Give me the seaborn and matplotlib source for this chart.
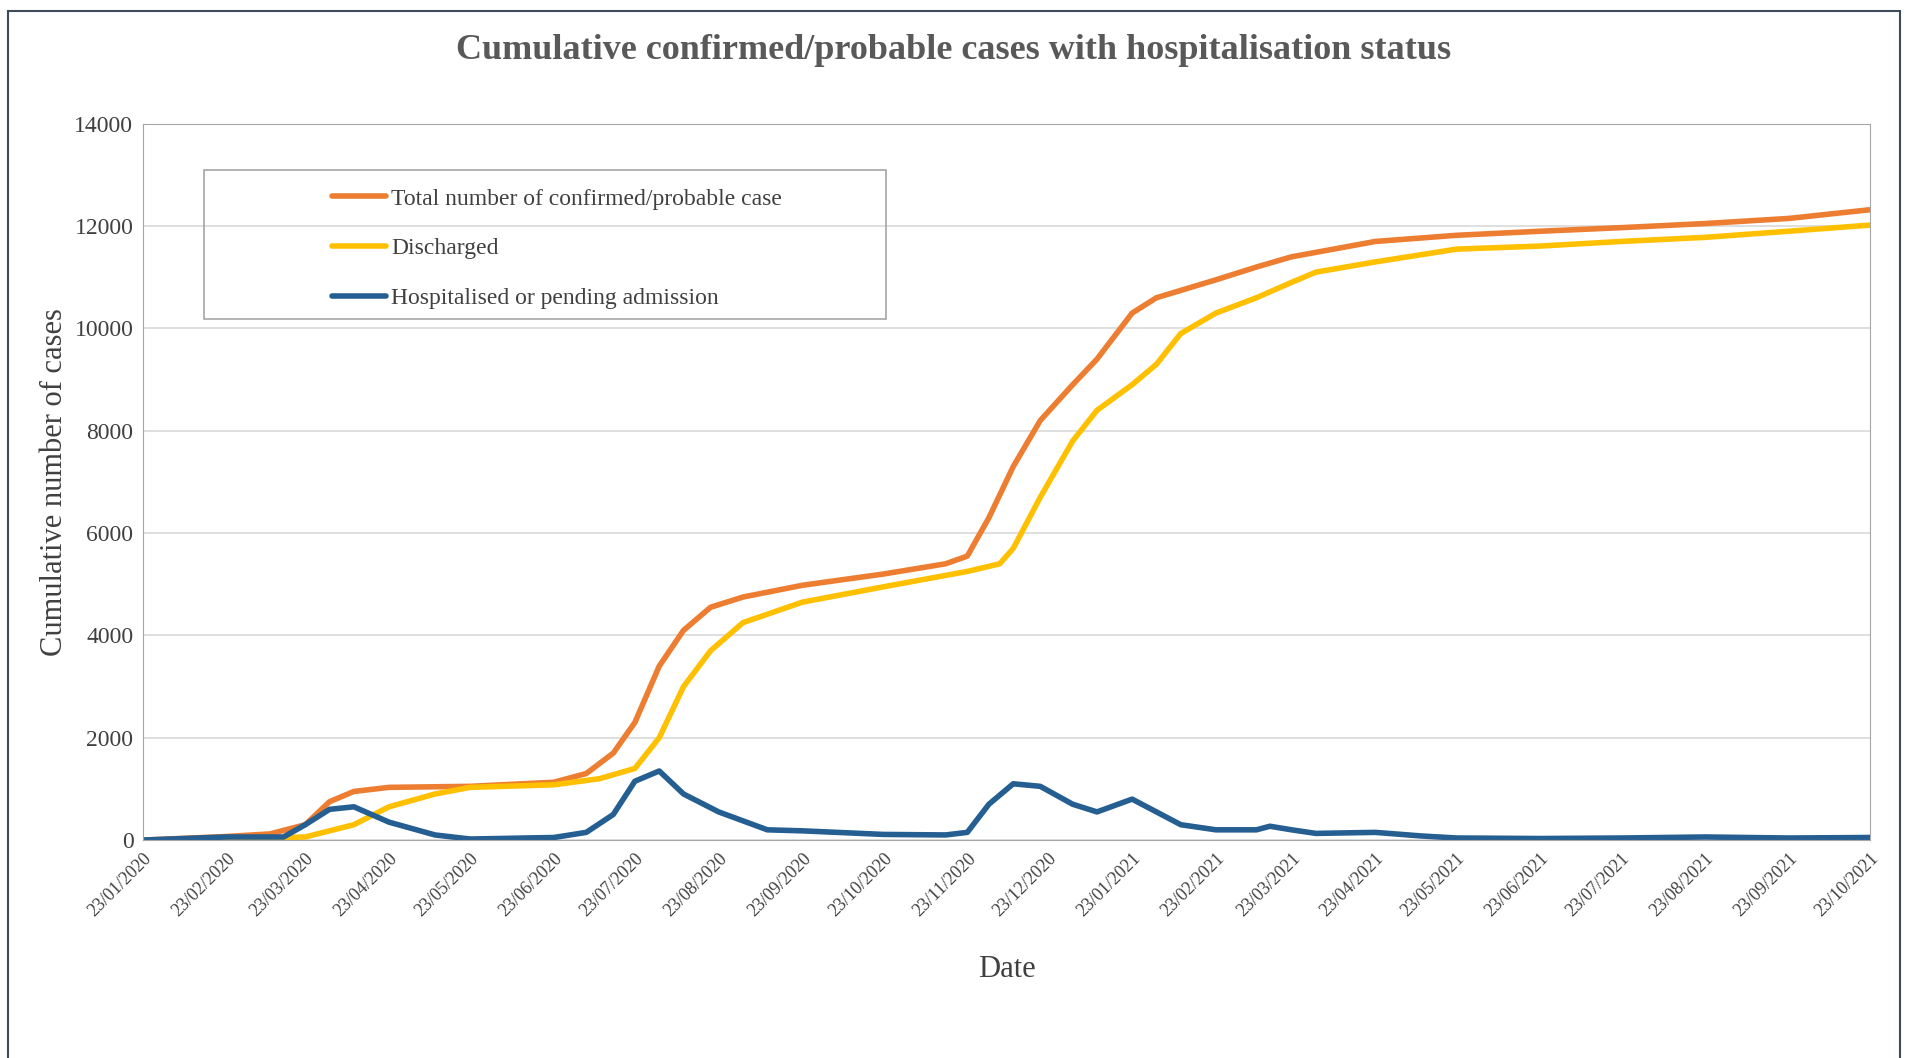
import pandas as pd
import matplotlib.pyplot as plt
import matplotlib.dates as mdates
import seaborn as sns

total_dates = ["2020-01-23", "2020-02-23", "2020-03-10", "2020-03-23", "2020-04-01", "2020-04-10",
               "2020-04-23", "2020-05-23", "2020-06-23", "2020-07-05", "2020-07-15", "2020-07-23",
               "2020-08-01", "2020-08-10", "2020-08-20", "2020-09-01", "2020-09-23", "2020-10-23",
               "2020-11-15", "2020-11-23", "2020-12-01", "2020-12-10", "2020-12-20", "2021-01-01",
               "2021-01-10", "2021-01-23", "2021-02-01", "2021-02-23", "2021-03-10", "2021-03-23",
               "2021-04-23", "2021-05-23", "2021-06-23", "2021-07-23", "2021-08-23", "2021-09-23",
               "2021-10-23"]
total_vals = [0, 70, 120, 300, 750, 950, 1030, 1050, 1130, 1300, 1700, 2300, 3400, 4100, 4550,
              4750, 4980, 5200, 5400, 5550, 6300, 7300, 8200, 8900, 9400, 10300, 10600, 10950,
              11200, 11400, 11700, 11820, 11900, 11970, 12050, 12150, 12320]

disch_dates = ["2020-01-23", "2020-02-23", "2020-03-23", "2020-04-10", "2020-04-23", "2020-05-10",
               "2020-05-23", "2020-06-23", "2020-07-10", "2020-07-23", "2020-08-01", "2020-08-10",
               "2020-08-20", "2020-09-01", "2020-09-23", "2020-10-23", "2020-11-23", "2020-12-05",
               "2020-12-10", "2020-12-20", "2021-01-01", "2021-01-10", "2021-01-23", "2021-02-01",
               "2021-02-10", "2021-02-23", "2021-03-10", "2021-03-23", "2021-04-01", "2021-04-23",
               "2021-05-23", "2021-06-23", "2021-07-23", "2021-08-23", "2021-09-23", "2021-10-23"]
disch_vals = [0, 20, 60, 300, 650, 900, 1030, 1080, 1200, 1400, 2000, 3000, 3700, 4250, 4650,
              4950, 5250, 5400, 5700, 6700, 7800, 8400, 8900, 9300, 9900, 10300, 10600, 10900,
              11100, 11300, 11550, 11610, 11700, 11780, 11900, 12020]

hosp_dates = ["2020-01-23", "2020-02-23", "2020-03-15", "2020-03-23", "2020-04-01", "2020-04-10",
              "2020-04-23", "2020-05-10", "2020-05-23", "2020-06-23", "2020-07-05", "2020-07-15",
              "2020-07-23", "2020-08-01", "2020-08-10", "2020-08-23", "2020-09-10", "2020-09-23",
              "2020-10-23", "2020-11-15", "2020-11-23", "2020-12-01", "2020-12-10", "2020-12-20",
              "2021-01-01", "2021-01-10", "2021-01-23", "2021-02-01", "2021-02-10", "2021-02-23",
              "2021-03-10", "2021-03-15", "2021-03-23", "2021-04-01", "2021-04-23", "2021-05-10",
              "2021-05-23", "2021-06-23", "2021-07-23", "2021-08-23", "2021-09-23", "2021-10-23"]
hosp_vals = [0, 60, 60, 300, 600, 650, 350, 100, 20, 50, 150, 500, 1150, 1350, 900, 550, 200,
             180, 110, 100, 150, 700, 1100, 1050, 700, 550, 800, 550, 300, 200, 200, 270, 200,
             130, 150, 80, 40, 30, 40, 60, 40, 50]

series = [
    ("Total number of confirmed/probable case", total_dates, total_vals, "#ED7D31"),
    ("Discharged", disch_dates, disch_vals, "#FFC000"),
    ("Hospitalised or pending admission", hosp_dates, hosp_vals, "#255E91"),
]

sns.set_style("white")
plt.rcParams['font.family'] = ['Liberation Serif', 'DejaVu Serif']

fig = plt.figure(figsize=(19.08, 10.58), dpi=100)
ax = fig.add_axes([0.075, 0.206, 0.905, 0.677])

for name, d, v, c in series:
    df = pd.DataFrame({"date": pd.to_datetime(d), "value": v})
    sns.lineplot(data=df, x="date", y="value", ax=ax, color=c, linewidth=4, label=name)

ticks = pd.date_range("2020-01-01", "2021-10-23", freq="MS") + pd.Timedelta(days=22)
ax.set_xticks(ticks)
ax.xaxis.set_major_formatter(mdates.DateFormatter("%d/%m/%Y"))
plt.setp(ax.get_xticklabels(), rotation=45, ha="right", rotation_mode="anchor", fontsize=13, color="#404040")
ax.set_xlim(pd.Timestamp("2020-01-23"), pd.Timestamp("2021-10-23"))
ax.set_ylim(0, 14000)
ax.set_yticks(range(0, 14001, 2000))
ax.tick_params(axis="y", labelsize=17, colors="#404040")
ax.grid(axis="y", color="#D9D9D9", linewidth=1.2)
for s in ax.spines.values():
    s.set_color("#A6A6A6")
ax.set_xlabel("Date", fontsize=22, color="#404040", labelpad=25)
ax.set_ylabel("Cumulative number of cases", fontsize=22, color="#404040")
fig.text(0.5, 0.952, "Cumulative confirmed/probable cases with hospitalisation status",
         ha="center", va="center", fontsize=26, fontweight="bold", color="#595959")

ax.legend(loc="upper left", bbox_to_anchor=(0.097, 0.94), fontsize=17, frameon=False,
          labelspacing=1.2, handlelength=2.3, handletextpad=0.2, labelcolor="#404040")
ax.add_patch(plt.Rectangle((0.035, 0.728), 0.395, 0.207, transform=ax.transAxes,
                           fill=False, edgecolor="#A6A6A6", linewidth=1.2, zorder=5))

fig.patches.append(plt.Rectangle((0.004, -0.01), 0.992, 1.0, transform=fig.transFigure,
                                 fill=False, edgecolor="#3F4A5A", linewidth=1.5))

fig.savefig("out.png", dpi=100)
